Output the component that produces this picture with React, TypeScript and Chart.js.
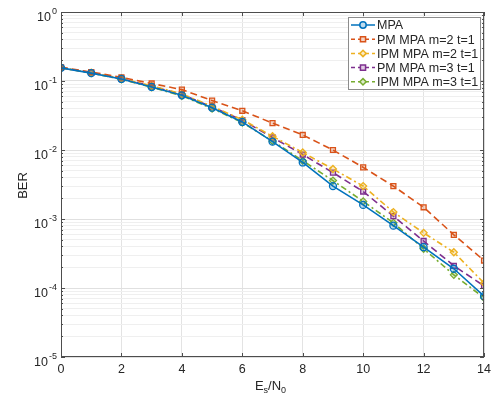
import React, { useEffect, useRef } from "react";
import { Chart, registerables } from "chart.js";

Chart.register(...registerables);

const snr = [0, 1, 2, 3, 4, 5, 6, 7, 8, 9, 10, 11, 12, 13, 14];
const mpa = [0.155, 0.13, 0.107, 0.082, 0.062, 0.041, 0.0255, 0.0132, 0.0066, 0.003, 0.0016, 0.0008, 0.00039, 0.00019, 0.000076];
const pmM2 = [0.158, 0.135, 0.113, 0.092, 0.075, 0.052, 0.037, 0.0245, 0.0165, 0.01, 0.0056, 0.003, 0.00148, 0.00059, 0.00025];
const ipmM2 = [0.156, 0.132, 0.109, 0.085, 0.065, 0.043, 0.0275, 0.0158, 0.0092, 0.0053, 0.003, 0.00126, 0.00063, 0.00033, 0.000118];
const pmM3 = [0.156, 0.132, 0.108, 0.084, 0.064, 0.042, 0.027, 0.0152, 0.0086, 0.0047, 0.0025, 0.0011, 0.00048, 0.00021, 0.000107];
const ipmM3 = [0.155, 0.13, 0.106, 0.081, 0.061, 0.04, 0.025, 0.0135, 0.007, 0.0036, 0.0018, 0.00088, 0.00037, 0.000155, 0.000072];
const seriesNames = ["MPA", "PM MPA m=2 t=1", "IPM MPA m=2 t=1", "PM MPA m=3 t=1", "IPM MPA m=3 t=1"];
const xTicks = [0, 2, 4, 6, 8, 10, 12, 14];
const yExponents = [0, -1, -2, -3, -4, -5];

const styles = [
  { color: "#0072BD", fill: "rgba(0,114,189,0.25)", dash: [] as number[], marker: "circle" },
  { color: "#D95319", fill: "rgba(217,83,25,0.25)", dash: [7, 4], marker: "rect" },
  { color: "#EDB120", fill: "rgba(237,177,32,0.25)", dash: [6, 3, 2, 3], marker: "rectRot" },
  { color: "#7E2F8E", fill: "rgba(126,47,142,0.25)", dash: [7, 4], marker: "rect" },
  { color: "#77AC30", fill: "rgba(119,172,48,0.25)", dash: [6, 3, 2, 3], marker: "rectRot" },
];

const FONT = '"Liberation Sans", Arial, Helvetica, sans-serif';
const TXT = "#262626";

function drawMarker(ctx: CanvasRenderingContext2D, kind: string, x: number, y: number, r: number) {
  ctx.beginPath();
  if (kind === "circle") ctx.arc(x, y, r, 0, Math.PI * 2);
  else if (kind === "rect") ctx.rect(x - r * 0.8, y - r * 0.8, r * 1.6, r * 1.6);
  else {
    ctx.moveTo(x, y - r);
    ctx.lineTo(x + r, y);
    ctx.lineTo(x, y + r);
    ctx.lineTo(x - r, y);
    ctx.closePath();
  }
}

const decorPlugin = {
  id: "decor",
  afterDraw(chart: any) {
    const ctx: CanvasRenderingContext2D = chart.ctx;
    const { left, right, top, bottom } = chart.chartArea;
    const ys = chart.scales.y;
    const xs = chart.scales.x;
    ctx.save();
    // frame
    ctx.strokeStyle = "#4d4d4d";
    ctx.lineWidth = 1;
    ctx.strokeRect(left + 0.5, top + 0.5, right - left - 1, bottom - top - 1);
    // ticks inward
    ctx.beginPath();
    for (const v of xTicks) {
      const px = Math.round(xs.getPixelForValue(v)) + 0.5;
      ctx.moveTo(px, bottom);
      ctx.lineTo(px, bottom - 4);
      ctx.moveTo(px, top);
      ctx.lineTo(px, top + 4);
    }
    for (let e = -5; e <= 0; e++) {
      for (let m = 1; m <= 9; m++) {
        if (e === 0 && m > 1) continue;
        const v = m * Math.pow(10, e);
        const py = Math.round(ys.getPixelForValue(v)) + 0.5;
        const len = m === 1 ? 4 : 2;
        ctx.moveTo(left, py);
        ctx.lineTo(left + len, py);
        ctx.moveTo(right, py);
        ctx.lineTo(right - len, py);
      }
    }
    ctx.stroke();
    // y tick labels with superscripts
    ctx.fillStyle = TXT;
    ctx.textBaseline = "alphabetic";
    ctx.textAlign = "left";
    for (const e of yExponents) {
      const py = ys.getPixelForValue(Math.pow(10, e));
      ctx.font = `12.5px ${FONT}`;
      const wb = ctx.measureText("10").width;
      ctx.font = `9px ${FONT}`;
      const expStr = String(e);
      const we = ctx.measureText(expStr).width;
      const xEnd = 57;
      const x0 = xEnd - we - wb - 1;
      ctx.font = `12.5px ${FONT}`;
      ctx.fillText("10", x0, py + 9);
      ctx.font = `9px ${FONT}`;
      ctx.fillText(expStr, x0 + wb + 1, py + 2);
    }
    // y title
    ctx.save();
    ctx.translate(27, (top + bottom) / 2 + 1);
    ctx.rotate(-Math.PI / 2);
    ctx.font = `13px ${FONT}`;
    ctx.textAlign = "center";
    ctx.fillText("BER", 0, 0);
    ctx.restore();
    // x title with subscripts
    {
      const parts: [string, number, number][] = [
        ["E", 13, 0],
        ["s", 9, 3],
        ["/N", 13, 0],
        ["0", 9, 3],
      ];
      let total = 0;
      for (const [t, s] of parts) {
        ctx.font = `${s}px ${FONT}`;
        total += ctx.measureText(t).width;
      }
      let x = (left + right) / 2 - total / 2 - 2;
      const base = 390;
      ctx.textAlign = "left";
      for (const [t, s, dy] of parts) {
        ctx.font = `${s}px ${FONT}`;
        ctx.fillText(t, x, base + dy);
        x += ctx.measureText(t).width;
      }
    }
    // legend
    const lx = 348, ly = 17, lw = 132, lh = 72;
    ctx.fillStyle = "#ffffff";
    ctx.fillRect(lx, ly, lw, lh);
    ctx.strokeStyle = "#8c8c8c";
    ctx.lineWidth = 1;
    ctx.strokeRect(lx + 0.5, ly + 0.5, lw, lh);
    chart.data.datasets.forEach((ds: any, i: number) => {
      const st = styles[i];
      const cy = 25 + i * 14.2;
      ctx.strokeStyle = st.color;
      ctx.lineWidth = 1.5;
      ctx.setLineDash(st.dash.length ? [4, 3] : []);
      ctx.beginPath();
      ctx.moveTo(351, cy);
      ctx.lineTo(375, cy);
      ctx.stroke();
      ctx.setLineDash([]);
      drawMarker(ctx, st.marker, 363, cy, 3.2);
      ctx.fillStyle = "#ffffff";
      ctx.fill();
      ctx.fillStyle = st.fill;
      ctx.fill();
      ctx.stroke();
      ctx.fillStyle = TXT;
      ctx.font = `12.5px ${FONT}`;
      ctx.textAlign = "left";
      ctx.textBaseline = "middle";
      ctx.fillText(ds.label, 377, cy + 1);
    });
    ctx.restore();
  },
};

export default function App() {
  const ref = useRef<HTMLCanvasElement | null>(null);
  useEffect(() => {
    if (!ref.current) return;
    const all = [mpa, pmM2, ipmM2, pmM3, ipmM3];
    const chart = new Chart(ref.current, {
      type: "line",
      data: {
        datasets: all.map((arr, i) => ({
          label: seriesNames[i],
          data: snr.map((x, k) => ({ x, y: arr[k] })),
          borderColor: styles[i].color,
          backgroundColor: styles[i].fill,
          borderDash: styles[i].dash,
          borderWidth: 1.6,
          pointStyle: styles[i].marker as any,
          pointRadius: 3.5,
          pointBorderWidth: 1.3,
          pointBorderColor: styles[i].color,
          pointBackgroundColor: styles[i].fill,
          fill: false,
          tension: 0,
        })),
      },
      options: {
        responsive: false,
        animation: false,
        layout: { padding: { top: 12, right: 9, left: 0, bottom: 0 } },
        plugins: { legend: { display: false }, tooltip: { enabled: false } },
        scales: {
          x: {
            type: "linear",
            min: 0,
            max: 14,
            afterFit: (s: any) => {
              s.height = 46;
            },
            afterBuildTicks: (s: any) => {
              s.ticks = xTicks.map((v) => ({ value: v }));
            },
            ticks: {
              font: { size: 12.5, family: FONT },
              color: TXT,
              padding: 5,
              maxRotation: 0,
            },
            grid: { color: "#e3e3e3", drawTicks: false },
            border: { display: false },
          },
          y: {
            type: "logarithmic",
            min: 1e-5,
            max: 1,
            afterFit: (s: any) => {
              s.width = 61;
            },
            afterBuildTicks: (s: any) => {
              const t: any[] = [];
              for (let e = -5; e <= 0; e++) {
                for (let m = 1; m <= 9; m++) {
                  if (e === 0 && m > 1) continue;
                  t.push({ value: m * Math.pow(10, e), major: m === 1 });
                }
              }
              s.ticks = t;
            },
            ticks: { display: false },
            grid: {
              drawTicks: false,
              color: (c: any) => {
                const v = c.tick ? c.tick.value : 1;
                const m = Math.round(v / Math.pow(10, Math.floor(Math.log10(v) + 1e-9)));
                return m === 1 ? "#e0e0e0" : "#efefef";
              },
            },
            border: { display: false },
          },
        },
      },
      plugins: [decorPlugin],
    } as any);
    return () => chart.destroy();
  }, []);
  return (
    <div style={{ position: "fixed", left: 0, top: 0, width: 496, height: 403, background: "#fff" }}>
      <canvas ref={ref} width={496} height={403} style={{ width: 496, height: 403, display: "block" }} />
    </div>
  );
}
